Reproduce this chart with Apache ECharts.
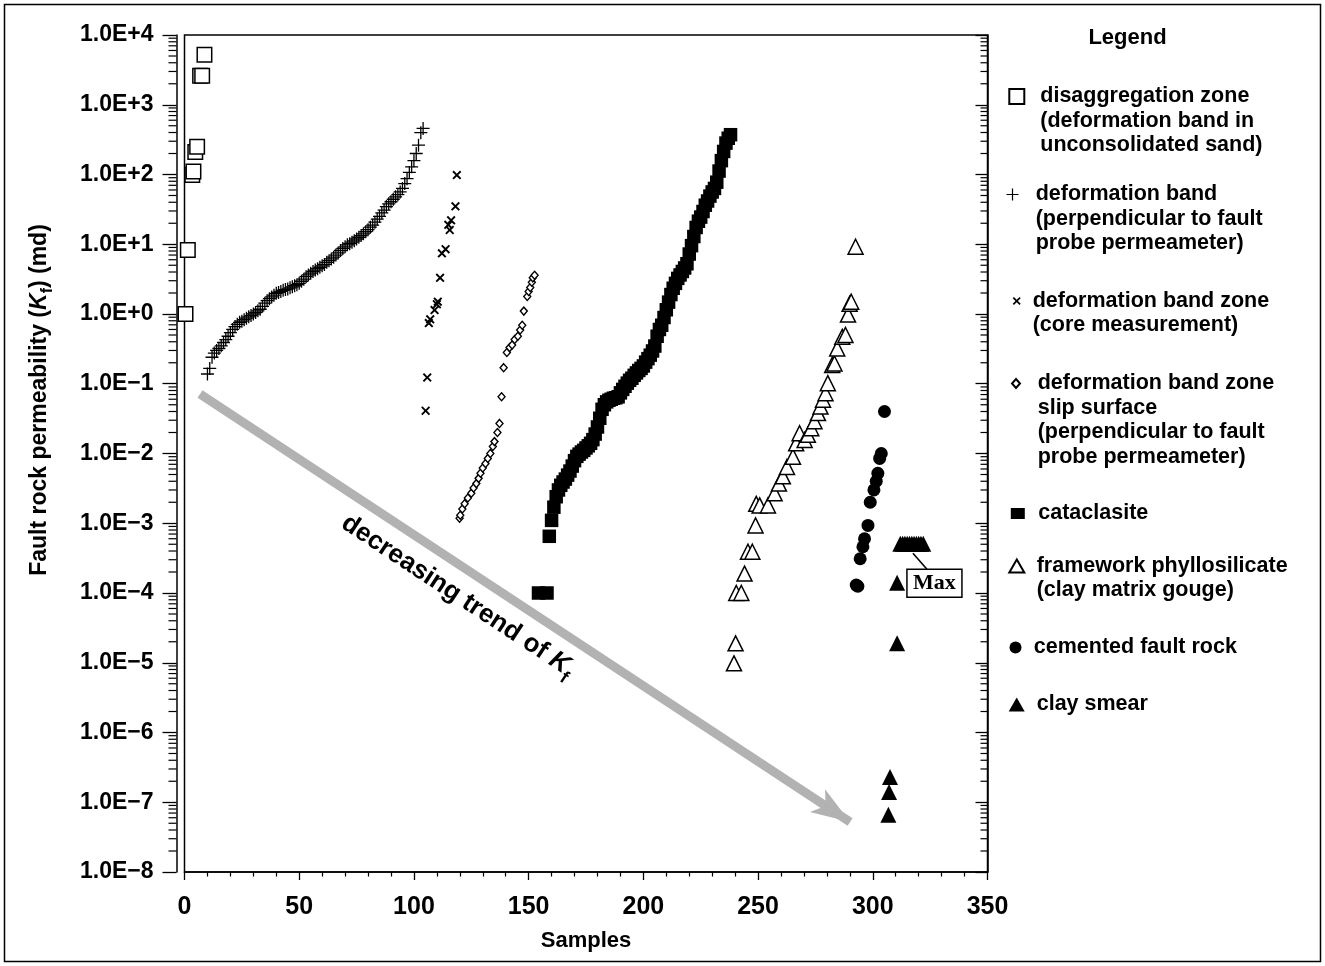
<!DOCTYPE html>
<html><head><meta charset="utf-8">
<script src="https://cdn.jsdelivr.net/npm/echarts@6/dist/echarts.min.js"></script>
<style>html,body{margin:0;padding:0;background:#fff}#c{width:1325px;height:966px}</style>
</head><body><div id="c"></div>
<script>
const FONT = "'Liberation Sans', Arial, Helvetica, sans-serif";

// ---------- tick labels ----------
const yExpMin = -8;
const yTickLabels = ['1.0E\u22128','1.0E\u22127','1.0E\u22126','1.0E\u22125','1.0E\u22124','1.0E\u22123','1.0E\u22122','1.0E\u22121','1.0E+0','1.0E+1','1.0E+2','1.0E+3','1.0E+4'];
const minorMultipliers = [2,3,4,5,6,7,8,9];

// ---------- series names ----------
const N_DISAGG = 'disaggregation zone\n(deformation band in\nunconsolidated sand)';
const N_BAND = 'deformation band\n(perpendicular to fault\nprobe permeameter)';
const N_ZONE = 'deformation band zone\n(core measurement)';
const N_SLIP = 'deformation band zone\nslip surface\n(perpendicular to fault\nprobe permeameter)';
const N_CATA = 'cataclasite';
const N_PHYL = 'framework phyllosilicate\n(clay matrix gouge)';
const N_CEM = 'cemented fault rock';
const N_CLAY = 'clay smear';

// ---------- data (sample number, permeability md) ----------
const disaggX = [0.44, 1.45, 3.4, 3.9, 4.7, 5.5, 6.8, 7.7, 8.7];
const disaggY = [1.0, 8.3, 98, 110, 210, 250, 2600, 2600, 5200];

const bandStart = 10;
const bandY = [0.138,0.166,0.24,0.275,0.30,0.32,0.35,0.39,0.43,0.48,0.54,0.60,0.66,0.71,0.76,0.79,0.83,0.87,0.91,0.95,
  1.0,1.05,1.11,1.17,1.29,1.43,1.55,1.66,1.76,1.86,1.98,2.04,2.11,2.19,2.24,2.29,2.37,2.45,2.54,2.63,
  2.75,2.95,3.16,3.43,3.63,3.85,4.07,4.27,4.47,4.68,4.90,5.13,5.50,5.82,6.17,6.53,7.0,7.5,8.13,8.7,
  9.2,9.8,10.2,10.7,11.2,11.9,12.6,13.3,14.1,15.1,16.2,17.6,18.8,20.7,22.9,25.1,28.2,30.9,34.7,38.0,
  40.7,44.2,47.9,51.3,56.2,63.1,74.1,87.1,107,129,158,200,263,398,457];

const zoneX = [105.1, 105.8, 106.5, 107.1, 109.0, 110.0, 110.4, 111.4, 112.2, 113.8, 115.0, 115.6, 116.2, 118.1, 118.7];
const zoneY = [0.041, 0.123, 0.74, 0.84, 1.14, 1.38, 1.5, 3.3, 7.4, 8.5, 19, 16, 22, 35, 98];

const slipX = [119.9,120.2,121.1,122.1,123.5,125.0,126.0,127.2,128.2,129.0,130.0,131.2,132.2,133.3,134.4,135.1,136.4,137.3,138.2,139.1,
  140.5,141.7,142.8,143.9,145.3,146.3,147.2,147.9,149.4,150.0,150.7,151.4,151.8,152.6];
const slipY = [0.00118,0.0013,0.0016,0.0019,0.0023,0.0027,0.0032,0.0037,0.0044,0.0052,0.0062,0.0072,0.0085,0.0100,0.0126,0.0148,0.020,0.027,0.065,0.17,
  0.28,0.33,0.36,0.43,0.48,0.59,0.69,1.1,1.78,2.1,2.4,2.85,3.3,3.6];

const cataLowX = [154.3, 158.0];
const cataLowY = [1e-4, 1e-4];
const cataStart = 159;
const cataY = [6.5e-4,1.1e-3,1.7e-3,2.4e-3,3.0e-3,3.5e-3,3.9e-3,4.3e-3,4.9e-3,5.6e-3,
  6.6e-3,7.9e-3,9.1e-3,9.8e-3,0.0105,0.0111,0.012,0.0129,0.014,0.0158,
  0.019,0.024,0.032,0.043,0.050,0.055,0.058,0.060,0.062,0.063,
  0.065,0.074,0.083,0.092,0.102,0.112,0.12,0.132,0.143,0.155,
  0.166,0.18,0.204,0.229,0.257,0.295,0.347,0.48,0.60,0.69,
  0.89,1.15,1.48,1.9,2.34,2.75,3.24,3.63,4.07,4.57,
  5.25,7.24,9.55,12.9,17.4,21.4,24.5,29.5,36.3,41.7,
  49,56.2,63.1,77.6,112,158,214,282,331,372];

const phylX = [239.5,240.2,240.5,242.7,244.1,245.6,247.5,248.9,249.2,250.7,254.3,257.2,259.1,260.8,262.6,265.2,266.6,268.1,270.3,271.7,
  273.2,274.6,276.1,277.2,278.3,279.4,280.4,282.3,283.3,284.5,286.7,288.1,289.2,289.9,290.6,292.5];
const phylY = [9.8e-6,1.9e-5,1.0e-4,1.0e-4,1.9e-4,3.9e-4,3.9e-4,9.3e-4,1.9e-3,1.8e-3,1.8e-3,2.7e-3,3.7e-3,4.7e-3,6.4e-3,9.0e-3,0.014,0.0195,0.0156,0.0185,
  0.023,0.029,0.038,0.047,0.059,0.073,0.102,0.186,0.195,0.32,0.47,0.50,0.98,1.4,1.5,9.2];

const cemX = [292.8,293.5,294.5,295.7,296.4,297.9,298.9,300.5,301.5,302.2,303.0,303.7,305.1];
const cemY = [1.3e-4,1.25e-4,3.1e-4,4.6e-4,6.0e-4,9.3e-4,2.0e-3,3.0e-3,4.0e-3,5.2e-3,8.5e-3,1.0e-2,0.040];

const clayX = [306.8,307.1,307.5,310.6,310.6,312,313,314,315,316,317,318,319,320,321,322];
const clayY = [6.6e-8,1.4e-7,2.3e-7,1.9e-5,1.4e-4,5.1e-4,5.1e-4,5.1e-4,5.1e-4,5.1e-4,5.1e-4,5.1e-4,5.1e-4,5.1e-4,5.1e-4,5.1e-4];

// annotation anchors (data space)
const trendFrom = [6.76, 0.0713];
const trendTo = [290.1, 5.2e-8];
const trendTextAnchor = [119.2, 9.06e-5];
const maxAnchor = [317.5, 5.1e-4];

// ---------- helpers ----------
const pairs = (xs, ys) => xs.map((x, i) => [x, ys[i]]);
const seq = (start, ys) => ys.map((v, i) => [start + i, v]);
const PLUS = 'path://M5.4,0H6.6V5.4H12V6.6H6.6V12H5.4V6.6H0V5.4H5.4Z';
const CROSS = 'path://M0,1.5L1.5,0L5,3.5L8.5,0L10,1.5L6.5,5L10,8.5L8.5,10L5,6.5L1.5,10L0,8.5L3.5,5Z';
const openStyle = {color: '#fff', borderColor: '#000', borderWidth: 1.5, opacity: 1};
const fillStyle = {color: '#000', borderWidth: 0, opacity: 1};

const minorTicks = [];
for (let e = yExpMin; e < yExpMin + yTickLabels.length - 1; e++) {
  minorMultipliers.forEach(m => minorTicks.push([0, m * Math.pow(10, e)]));
}

function scatter(name, symbol, size, style, data) {
  return {name, type: 'scatter', symbol, symbolSize: size, itemStyle: style, data,
    silent: true, emphasis: {disabled: true}, animation: false};
}

// legend layout (positions only)
const L = 24.5;
const legendDefs = [
  {name: N_DISAGG, icon: 'rect', w: 15, h: 15, cx: 1015.8, cy: 96.5, tx: 1039.3, n: 3},
  {name: N_BAND, icon: PLUS, w: 12, h: 12, cx: 1012.5, cy: 194.5, tx: 1035.7, n: 3},
  {name: N_ZONE, icon: CROSS, w: 8, h: 8, cx: 1016.7, cy: 301, tx: 1032.7, n: 2},
  {name: N_SLIP, icon: 'diamond', w: 8, h: 9, cx: 1015, cy: 383.5, tx: 1036.7, n: 4},
  {name: N_CATA, icon: 'rect', w: 14, h: 11, cx: 1017.8, cy: 513.5, tx: 1038.3, n: 1},
  {name: N_PHYL, icon: 'triangle', w: 15, h: 13, cx: 1015.8, cy: 566, tx: 1035.7, n: 2},
  {name: N_CEM, icon: 'circle', w: 13, h: 12, cx: 1016, cy: 647.5, tx: 1034.3, n: 1},
  {name: N_CLAY, icon: 'triangle', w: 16, h: 14, cx: 1016.7, cy: 704.5, tx: 1036.7, n: 1}
];
const legends = legendDefs.map(d => {
  const H = Math.max(d.h, (2 * d.n - 1) * L);
  return {
    orient: 'vertical', padding: 0, itemGap: 0, selectedMode: false,
    left: d.cx - d.w / 2, top: d.cy - H / 2,
    itemWidth: d.w, itemHeight: d.h,
    data: [{name: d.name, icon: d.icon}],
    formatter: name => '\n'.repeat(d.n - 1) + name,
    textStyle: {color: '#000', fontFamily: FONT, fontWeight: 'bold', fontSize: 21.5, lineHeight: L,
      padding: [0, 0, 0, d.tx - (d.cx - d.w / 2) - d.w - 5]}
  };
});

const chart = echarts.init(document.getElementById('c'), null, {renderer: 'canvas'});
const axisLineStyle = {color: '#000', width: 1.5};

chart.setOption({
  animation: false,
  backgroundColor: '#fff',
  grid: {left: 184.5, right: 337.5, top: 35, bottom: 94, show: true, borderColor: '#000', borderWidth: 1.5, containLabel: false},
  legend: legends,
  xAxis: {
    type: 'value', min: 0, max: 350, interval: 50, position: 'bottom',
    axisLine: {show: true, onZero: false, lineStyle: axisLineStyle},
    axisTick: {show: true, inside: false, length: 8, lineStyle: {color: '#000', width: 1.3}},
    minorTick: {show: true, splitNumber: 5, length: 4.5, lineStyle: {color: '#000', width: 1.2}},
    splitLine: {show: false}, minorSplitLine: {show: false},
    axisLabel: {color: '#000', fontFamily: FONT, fontWeight: 'bold', fontSize: 25, margin: 23},
    name: 'Samples', nameLocation: 'middle', nameGap: 58,
    nameTextStyle: {color: '#000', fontFamily: FONT, fontWeight: 'bold', fontSize: 22}
  },
  yAxis: [{
    type: 'log', logBase: 10, min: 1e-8, max: 1e4, interval: 1, splitNumber: 12, position: 'left', offset: 8,
    axisLine: {show: true, onZero: false, lineStyle: axisLineStyle},
    axisTick: {show: true, inside: false, length: 14, lineStyle: {color: '#000', width: 1.3}},
    minorTick: {show: false}, splitLine: {show: false},
    axisLabel: {color: '#000', fontFamily: FONT, fontWeight: 'bold', fontSize: 23, margin: 23,
      formatter: v => yTickLabels[Math.round(Math.log10(v)) - yExpMin]},
    name: 'Fault rock permeability ({k|K}{s|f}) (md)',
    nameLocation: 'middle', nameRotate: 90, nameGap: 121,
    nameTextStyle: {color: '#000', fontFamily: FONT, fontWeight: 'bold', fontSize: 23, padding: [0, 0, 0, 107],
      rich: {
        k: {fontFamily: FONT, fontWeight: 'bold', fontStyle: 'italic', fontSize: 23, color: '#000'},
        s: {fontFamily: FONT, fontWeight: 'bold', fontSize: 16, color: '#000', verticalAlign: 'bottom', lineHeight: 31}
      }}
  }, {
    type: 'log', logBase: 10, min: 1e-8, max: 1e4, interval: 1, splitNumber: 12, position: 'right',
    axisLine: {show: true, onZero: false, lineStyle: axisLineStyle},
    axisTick: {show: true, inside: true, length: 12, lineStyle: {color: '#000', width: 1.3}},
    axisLabel: {show: false}, splitLine: {show: false}
  }],
  series: [
    Object.assign(scatter(N_DISAGG, 'rect', 14.5, openStyle, pairs(disaggX, disaggY)), {
      markLine: {
        silent: true, animation: false, symbol: ['none', 'arrow'], symbolSize: [20.6, 39],
        label: {show: false}, emphasis: {disabled: true},
        lineStyle: {color: '#b2b2b2', width: 9, type: 'solid', opacity: 1},
        data: [[{coord: trendFrom}, {coord: trendTo}]]
      }
    }),
    scatter(N_BAND, PLUS, 13, fillStyle, seq(bandStart, bandY)),
    scatter(N_ZONE, CROSS, 9, fillStyle, pairs(zoneX, zoneY)),
    scatter(N_SLIP, 'diamond', [7, 8], {color: '#fff', borderColor: '#000', borderWidth: 1.4, opacity: 1}, pairs(slipX, slipY)),
    scatter(N_CATA, 'rect', 13.5, fillStyle, pairs(cataLowX, cataLowY).concat(seq(cataStart, cataY))),
    scatter(N_PHYL, 'triangle', 15, openStyle, pairs(phylX, phylY)),
    scatter(N_CEM, 'circle', 13, fillStyle, pairs(cemX, cemY)),
    scatter(N_CLAY, 'triangle', 16, fillStyle, pairs(clayX, clayY)),
    {
      type: 'custom', silent: true, animation: false, clip: false, data: minorTicks,
      renderItem: (params, api) => {
        const v = api.value(1);
        const p = api.coord([0, v]);
        const pr = api.coord([350, v]);
        const st = {stroke: '#000', lineWidth: 1.2};
        return {type: 'group', children: [
          {type: 'line', shape: {x1: p[0] - 8, y1: p[1], x2: p[0] - 16, y2: p[1]}, style: st},
          {type: 'line', shape: {x1: pr[0], y1: pr[1], x2: pr[0] - 7, y2: pr[1]}, style: st}
        ]};
      }
    }
  ]
});

const px = (x, y) => chart.convertToPixel({xAxisIndex: 0, yAxisIndex: 0}, [x, y]);
const mp = px(maxAnchor[0], maxAnchor[1]);
const tp = px(trendTextAnchor[0], trendTextAnchor[1]);
const tokenFont = {fontFamily: FONT, fontWeight: 'bold', fontSize: 26, fill: '#000'};
chart.setOption({
  graphic: [
    {type: 'rect', silent: true, z: 100, shape: {x: 4.5, y: 4.5, width: 1316, height: 957},
      style: {fill: 'none', stroke: '#000', lineWidth: 1.5}},
    {type: 'text', silent: true, x: 1127.5, y: 38,
      style: {text: 'Legend', fontFamily: FONT, fontWeight: 'bold', fontSize: 22, fill: '#000', align: 'center', verticalAlign: 'middle'}},
    {type: 'line', silent: true, z: 50, shape: {x1: mp[0], y1: mp[1] + 9.5, x2: mp[0] + 14, y2: mp[1] + 25.5},
      style: {stroke: '#000', lineWidth: 1.5}},
    {type: 'rect', silent: true, z: 50, shape: {x: mp[0] - 6, y: mp[1] + 25.5, width: 55, height: 28},
      style: {fill: '#fff', stroke: '#000', lineWidth: 1.5}},
    {type: 'text', silent: true, z: 51, x: mp[0] + 21.5, y: mp[1] + 40,
      style: {text: 'Max', fontFamily: "'Liberation Serif', 'Times New Roman', serif", fontWeight: 'bold', fontSize: 22,
        fill: '#000', align: 'center', verticalAlign: 'middle'}},
    {type: 'text', silent: true, z: 50, x: tp[0], y: tp[1], rotation: -33.4 * Math.PI / 180,
      style: Object.assign({}, tokenFont, {
        text: 'decreasing trend of {k|K}{s|f}', align: 'center', verticalAlign: 'middle',
        rich: {
          k: Object.assign({}, tokenFont, {fontStyle: 'italic'}),
          s: Object.assign({}, tokenFont, {fontSize: 18, verticalAlign: 'bottom', lineHeight: 38})
        }
      })}
  ]
});
</script></body></html>
